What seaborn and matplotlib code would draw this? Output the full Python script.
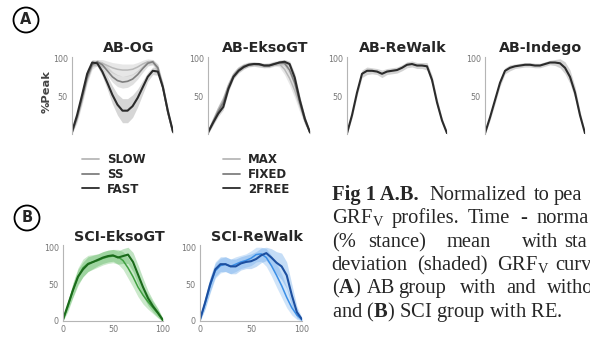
import numpy as np
import matplotlib.pyplot as plt
from matplotlib.patches import Ellipse
from matplotlib.lines import Line2D
import seaborn as sns

# % stance, sampled every 5 %
stance = list(range(0, 101, 5))

# AB-OG (speeds)
og_slow = [2, 20, 45, 72, 90, 95, 94, 91, 88, 86, 85, 85, 86, 89, 93, 96, 95, 87, 62, 28, 2]
og_slow_sd = [2, 5, 6, 5, 4, 4, 5, 6, 7, 8, 8, 8, 7, 6, 5, 4, 4, 5, 6, 5, 2]
og_ss = [2, 22, 48, 75, 92, 96, 92, 84, 76, 71, 69, 70, 73, 79, 87, 94, 96, 88, 62, 28, 2]
og_ss_sd = [2, 5, 6, 5, 3, 3, 4, 6, 7, 8, 8, 8, 7, 6, 5, 4, 3, 5, 6, 5, 2]
og_fast = [3, 25, 52, 80, 95, 94, 83, 68, 52, 39, 31, 31, 37, 48, 62, 76, 84, 83, 62, 30, 3]
og_fast_sd = [2, 5, 7, 6, 4, 4, 6, 9, 12, 14, 16, 16, 15, 12, 9, 6, 5, 5, 6, 5, 2]

# AB-EksoGT (assistance modes)
ekso_max = [2, 18, 33, 46, 65, 79, 87, 91, 93, 93, 92, 91, 92, 94, 93, 86, 74, 58, 38, 18, 2]
ekso_max_sd = [2, 4, 5, 5, 5, 4, 3, 3, 3, 3, 3, 3, 3, 3, 4, 7, 9, 10, 9, 6, 2]
ekso_fixed = [2, 16, 30, 42, 62, 77, 85, 90, 92, 93, 92, 91, 91, 93, 95, 94, 85, 68, 42, 18, 2]
ekso_fixed_sd = [2, 4, 4, 4, 4, 3, 3, 3, 3, 3, 3, 3, 3, 3, 3, 4, 6, 8, 7, 5, 2]
ekso_2free = [2, 15, 27, 36, 60, 76, 84, 89, 92, 93, 93, 91, 91, 93, 95, 96, 93, 75, 45, 20, 2]
ekso_2free_sd = [2, 3, 4, 4, 4, 3, 3, 3, 2, 2, 2, 2, 2, 2, 3, 3, 4, 6, 6, 4, 2]

# AB-ReWalk / AB-Indego
rewalk = [1, 25, 55, 80, 84, 84, 83, 80, 83, 84, 85, 88, 92, 93, 91, 91, 90, 72, 42, 18, 1]
rewalk_sd = [2, 4, 5, 5, 5, 4, 4, 5, 4, 4, 4, 4, 4, 4, 4, 4, 5, 6, 6, 4, 2]
indego = [1, 22, 45, 68, 84, 88, 90, 91, 92, 92, 91, 91, 93, 95, 95, 94, 88, 76, 55, 25, 1]
indego_sd = [2, 4, 5, 5, 4, 4, 3, 3, 3, 3, 3, 3, 3, 3, 4, 6, 8, 9, 8, 6, 2]

# SCI-EksoGT
sci_ekso_a = [2, 20, 42, 60, 72, 78, 80, 82, 85, 87, 88, 87, 82, 72, 60, 46, 35, 26, 18, 10, 1]
sci_ekso_a_sd = [2, 7, 10, 12, 12, 11, 10, 9, 9, 9, 9, 10, 12, 14, 14, 13, 12, 10, 8, 6, 2]
sci_ekso_b = [2, 22, 42, 60, 70, 77, 80, 83, 86, 88, 89, 86, 88, 90, 80, 63, 46, 31, 20, 11, 1]
sci_ekso_b_sd = [2, 6, 9, 10, 10, 10, 9, 8, 8, 8, 8, 9, 10, 12, 13, 13, 12, 10, 8, 6, 2]

# SCI-ReWalk
sci_rw_a = [2, 24, 48, 68, 75, 77, 74, 77, 80, 82, 85, 90, 91, 86, 75, 62, 48, 32, 18, 8, 2]
sci_rw_a_sd = [2, 8, 10, 10, 10, 10, 10, 10, 9, 9, 10, 10, 10, 12, 14, 16, 16, 14, 10, 6, 2]
sci_rw_b = [2, 25, 50, 70, 77, 77, 74, 74, 78, 80, 81, 84, 89, 92, 86, 79, 74, 62, 35, 12, 2]
sci_rw_b_sd = [2, 8, 10, 10, 10, 10, 10, 10, 9, 9, 10, 10, 10, 10, 12, 15, 18, 18, 15, 8, 2]

sns.set_style("white")
plt.rcParams["font.family"] = ["DejaVu Sans"]
plt.rcParams["mathtext.fontset"] = "custom"
plt.rcParams["mathtext.rm"] = "Liberation Serif"
plt.rcParams["mathtext.bf"] = "Liberation Serif:bold"

W, H = 590, 339
fig = plt.figure(figsize=(5.9, 3.39), dpi=100)


def box(x0, y0, x1, y1):
    # pixel box, origin top-left -> figure fraction
    return [x0 / W, 1 - y1 / H, (x1 - x0) / W, (y1 - y0) / H]


def fy(y):
    return 1 - y / H


def panel(rect, title, series, bottom_axis):
    ax = fig.add_axes(rect)
    for mean, sd, col, band, alpha, lw in series:
        m = np.array(mean, dtype=float)
        s = np.array(sd, dtype=float)
        ax.fill_between(stance, m - s, np.minimum(m + s, 100), color=band,
                        alpha=alpha, lw=0)
    for mean, sd, col, band, alpha, lw in series:
        sns.lineplot(x=stance, y=mean, ax=ax, color=col, linewidth=lw)
    ax.set_xlim(0, 100)
    ax.set_ylim(0, 103)
    ax.set_xlabel("")
    ax.set_ylabel("")
    for sp in ["top", "right"]:
        ax.spines[sp].set_visible(False)
    ax.spines["left"].set_color("#b5b5b5")
    ax.spines["left"].set_linewidth(0.8)
    ax.set_yticks([0, 50, 100])
    ax.tick_params(axis="both", length=2, width=0.6, color="#999999",
                   labelsize=5.8, labelcolor="#777777", pad=1)
    if bottom_axis:
        ax.spines["bottom"].set_color("#b5b5b5")
        ax.spines["bottom"].set_linewidth(0.8)
        ax.set_xticks([0, 50, 100])
        ax.set_yticklabels(["0", "50", "100"])
    else:
        ax.spines["bottom"].set_visible(False)
        ax.set_xticks([])
        ax.set_yticklabels(["", "50", "100"])
    ax.set_title(title, fontsize=10.3, fontweight="bold", pad=3, x=0.56)
    return ax


light, mid, dark = "#b8b8b8", "#7f7f7f", "#2b2b2b"

panel(box(72, 56.5, 173, 134), "AB-OG", [
    (og_slow, og_slow_sd, light, "#bdbdbd", 0.35, 1.1),
    (og_ss, og_ss_sd, mid, "#a8a8a8", 0.35, 1.2),
    (og_fast, og_fast_sd, dark, "#9a9a9a", 0.4, 1.5)], False)
panel(box(208, 56.5, 310, 134), "AB-EksoGT", [
    (ekso_max, ekso_max_sd, light, "#bdbdbd", 0.35, 1.1),
    (ekso_fixed, ekso_fixed_sd, mid, "#a8a8a8", 0.35, 1.2),
    (ekso_2free, ekso_2free_sd, dark, "#9a9a9a", 0.4, 1.5)], False)
panel(box(347, 56.5, 447, 134), "AB-ReWalk", [
    (rewalk, rewalk_sd, dark, "#a8a8a8", 0.5, 1.5)], False)
panel(box(485, 56.5, 585, 134), "AB-Indego", [
    (indego, indego_sd, dark, "#a8a8a8", 0.5, 1.5)], False)

panel(box(63, 245, 163, 321), "SCI-EksoGT", [
    (sci_ekso_a, sci_ekso_a_sd, "#3f9f3f", "#6cc06c", 0.35, 1.1),
    (sci_ekso_b, sci_ekso_b_sd, "#1b6b1b", "#4caf50", 0.35, 1.5)], True)
panel(box(200, 245, 302, 321), "SCI-ReWalk", [
    (sci_rw_a, sci_rw_a_sd, "#3a8ee6", "#7ab4ee", 0.35, 1.1),
    (sci_rw_b, sci_rw_b_sd, "#1c4fa0", "#5a9ee8", 0.35, 1.5)], True)

fig.text(47 / W, fy(92), "%Peak", rotation=90, ha="center", va="center",
         fontsize=8.2, fontweight="bold", color="#444444")

# legends
leg_kw = dict(loc="upper left", frameon=False, borderpad=0, borderaxespad=0,
              handlelength=1.4, handletextpad=0.7, labelspacing=0.15,
              prop={"weight": "bold", "size": 8.5})
speed_h = [Line2D([], [], color=c, lw=1.3) for c in (light, mid, dark)]
fig.legend(speed_h, ["SLOW", "SS", "FAST"], bbox_to_anchor=(82 / W, fy(153)), **leg_kw)
mode_h = [Line2D([], [], color=c, lw=1.3) for c in (light, mid, dark)]
fig.legend(mode_h, ["MAX", "FIXED", "2FREE"], bbox_to_anchor=(223 / W, fy(153)), **leg_kw)

# circled panel letters
for letter, cx, cy in [("A", 26, 20), ("B", 27, 218)]:
    fig.add_artist(Ellipse((cx / W, fy(cy)), 25 / W, 25 / H, transform=fig.transFigure,
                           fill=False, lw=1.3, ec="black"))
    fig.text(cx / W, fy(cy), letter, ha="center", va="center", fontsize=10.5,
             fontweight="bold")

# caption (justified, cut off at the right edge as in the source)
caption = [
    (200, [(331.7, "Fig 1 A.B.", "bold"), (429, "Normalized", "normal"),
           (534, "to", "normal"), (554, "pea", "normal")]),
    (223, [(331.7, "GRF$_\\mathrm{V}$", "normal"), (391.7, "profiles.", "normal"),
           (468, "Time", "normal"), (520, "-", "normal"), (536.7, "norma", "normal")]),
    (247, [(331.7, "(%", "normal"), (368, "stance)", "normal"), (446.7, "mean", "normal"),
           (522, "with", "normal"), (564, "sta", "normal")]),
    (270, [(331.7, "deviation", "normal"), (416.7, "(shaded)", "normal"),
           (496.7, "GRF$_\\mathrm{V}$", "normal"), (555, "curv", "normal")]),
    (293, [(331.7, "($\\mathbf{A}$)", "normal"), (366.7, "AB", "normal"),
           (398, "group", "normal"), (460, "with", "normal"), (506.7, "and", "normal"),
           (546.7, "withou", "normal")]),
    (317, [(331.7, "and ($\\mathbf{B}$) SCI group with RE.", "normal")]),
]
for base, words in caption:
    for x, w, weight in words:
        fig.text(x / W, fy(base), w, ha="left", va="baseline", fontsize=14.8,
                 family="Liberation Serif", fontweight=weight)

fig.savefig("out.png", dpi=100)
